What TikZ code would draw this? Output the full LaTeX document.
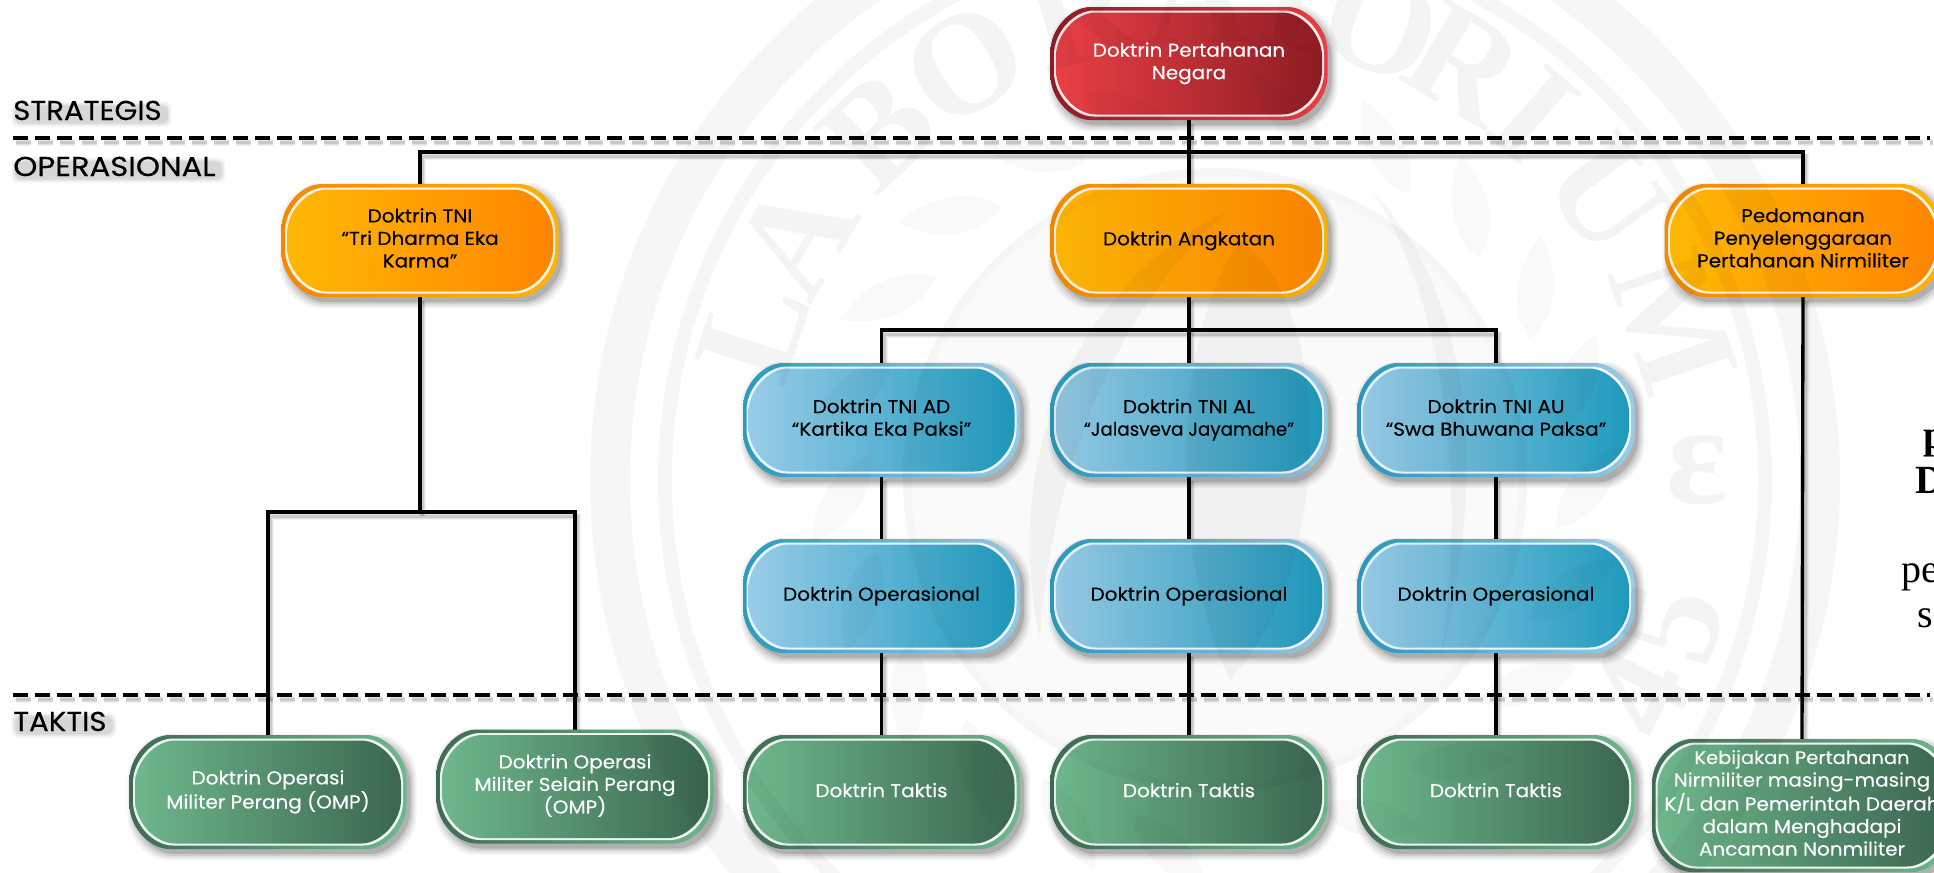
\documentclass[tikz,border=0pt]{standalone}
\usepackage{fontspec}
\setmainfont{Poppins}[FakeStretch=1.07,FakeBold=0.25]
\newfontfamily\wmfont{Liberation Serif}
\usetikzlibrary{calc}
\pgfdeclarelayer{back}
\pgfdeclarelayer{front}
\pgfsetlayers{back,main,front}
\definecolor{rdL}{HTML}{E83F45}\definecolor{rdR}{HTML}{8E1C24}
\definecolor{rdbL}{HTML}{8F1D26}\definecolor{rdbR}{HTML}{E83F45}
\definecolor{orL}{HTML}{FFB805}\definecolor{orR}{HTML}{FF8500}
\definecolor{orbL}{HTML}{F58800}\definecolor{orbR}{HTML}{FFB405}
\definecolor{blL}{HTML}{98CCE8}\definecolor{blR}{HTML}{1F9ABD}
\definecolor{blbL}{HTML}{2A9CBE}\definecolor{blbR}{HTML}{9ACCE8}
\definecolor{grL}{HTML}{6EB78C}\definecolor{grR}{HTML}{3B6650}
\definecolor{grbL}{HTML}{3F6B55}\definecolor{grbR}{HTML}{6EB78C}
\newcommand\pstrut{\rule[-4pt]{0pt}{13pt}}
\newcommand\pillp{(-\A+40,-\B) -- (\A-40,-\B) .. controls (\A-20,-\B) and (\A,-\B+22) .. (\A,-\B+44) -- (\A,\B-44) .. controls (\A,\B-22) and (\A-20,\B) .. (\A-40,\B) -- (-\A+40,\B) .. controls (-\A+20,\B) and (-\A,\B-22) .. (-\A,\B-44) -- (-\A,-\B+44) .. controls (-\A,-\B+22) and (-\A+20,-\B) .. (-\A+40,-\B) -- cycle}
% name, cx, cy, half width, half height, colour set, text colour, text
\newcommand\pill[8]{%
  \begin{scope}[shift={(#2,#3)}]
    \foreach \k/\o in {6/.05,4/.07,2/.09,0/.14}{
      \pgfmathsetmacro\A{#4+\k}\pgfmathsetmacro\B{#5+\k}
      \fill[black,opacity=\o,shift={(4,5)}] \pillp;
    }
    \pgfmathsetmacro\A{#4}\pgfmathsetmacro\B{#5}
    \path[left color=#6bL,right color=#6bR] \pillp;
    \pgfmathsetmacro\A{#4-3.5}\pgfmathsetmacro\B{#5-3.5}
    \path[fill=white,fill opacity=.9] \pillp;
    \pgfmathsetmacro\A{#4-5.5}\pgfmathsetmacro\B{#5-5.5}
    \path[left color=#6L,right color=#6R] \pillp;
  \end{scope}
  \node[pillnode,text=#7,minimum width=#4*1.5pt,minimum height=#5*1.5pt] (#1) at (#2,#3) {\pstrut #8\pstrut};
}
\newcommand\oneline[1]{\raisebox{-1.1pt}{#1}}
% soft shadow + crisp line
\newcommand\conn[1]{%
  \begin{pgfonlayer}{back}
    \foreach \w/\o in {7/.05,5/.07,3/.1}{
      \draw[line width=\w*.75pt,black,opacity=\o,transform canvas={shift={(2.2pt,-3pt)}}] #1;
    }
    \draw[wire] #1;
  \end{pgfonlayer}
}
\newcommand\dashln[1]{%
  \begin{pgfonlayer}{back}
    \foreach \w/\o in {7/.05,5/.07,3/.1}{
      \draw[line width=\w*.75pt,black,opacity=\o,dash pattern=on 11.25pt off 5.25pt,transform canvas={shift={(2.2pt,-3.5pt)}}] #1;
    }
    \draw[dashline] #1;
  \end{pgfonlayer}
}
\newcommand\levlab[4]{%
  \node[levelt] (#1) at (#2,#3) {#4};
  \begin{pgfonlayer}{back}
    \foreach \k/\o in {4/.02,3/.025,2/.03,1/.04,0/.05}{
      \fill[black,opacity=\o,rounded corners=5pt]
        ($(#1.south west)+(2-\k,3+\k)$) rectangle ($(#1.north east)+(6+\k,5-\k)$);
    }
  \end{pgfonlayer}
}
\tikzset{
  pillnode/.style={rectangle,inner sep=0pt,outer sep=0pt,align=center,font=\fontsize{14}{16.9}\selectfont},
  wire/.style={line width=2.5pt,black,line cap=butt,line join=miter},
  dashline/.style={line width=2.6pt,black,dash pattern=on 11.25pt off 5.25pt},
  levelt/.style={anchor=base west,inner sep=0pt,font=\fontsize{20.5}{22}\selectfont},
  wmink/.style={fill=black,fill opacity=.035,draw=none},
  wmletter/.style={inner sep=0pt,text=black,text opacity=.045,font=\wmfont\bfseries\fontsize{108}{108}\selectfont},
  cuttext/.style={anchor=base west,inner sep=0pt,font=\wmfont\fontsize{30}{36}\selectfont}
}
\begin{document}
\begin{tikzpicture}[x=0.75pt,y=-0.75pt]
\useasboundingbox (0,0) rectangle (1934,872);
\clip (0,0) rectangle (1934,872);

% cut-off text at the right edge
\node[cuttext] (cutp) at (1923,448) {\textbf{p}};
\node[cuttext] (cutD) at (1915,493) {\textbf{D}};
\node[cuttext] (cutpe) at (1901,582) {pe};
\node[cuttext] (cuts) at (1917,627) {s};

% nodes
\pill{red}{1189}{63.5}{138.5}{56.5}{rd}{white}{Doktrin Pertahanan\\Negara}
\pill{tni}{420}{240.5}{138.5}{56.5}{or}{black}{Doktrin TNI\\“Tri Dharma Eka\\Karma”}
\pill{ang}{1189}{240.5}{138.5}{56.5}{or}{black}{\raisebox{-2pt}{Doktrin Angkatan}}
\pill{ped}{1803}{240.5}{138.5}{56.5}{or}{black}{Pedomanan\\Penyelenggaraan\\Pertahanan Nirmiliter}
\pill{ad}{881.5}{420}{138.5}{57}{bl}{black}{Doktrin TNI AD\\“Kartika Eka Paksi”}
\pill{al}{1189}{420}{138.5}{57}{bl}{black}{Doktrin TNI AL\\\scalebox{0.915}[1]{“Jalasveva Jayamahe”}}
\pill{au}{1496}{420}{138.5}{57}{bl}{black}{Doktrin TNI AU\\“Swa Bhuwana Paksa”}
\pill{opa}{881.5}{596}{138.5}{57}{bl}{black}{\oneline{Doktrin Operasional}}
\pill{opb}{1189}{596}{138.5}{57}{bl}{black}{\oneline{Doktrin Operasional}}
\pill{opc}{1496}{596}{138.5}{57}{bl}{black}{\oneline{Doktrin Operasional}}
\pill{omp}{268}{792}{138.5}{57}{gr}{white}{Doktrin Operasi\\Militer Perang (OMP)}
\pill{oms}{575}{786.5}{138.5}{57}{gr}{white}{Doktrin Operasi\\Militer Selain Perang\\(OMP)}
\pill{ta}{881.5}{792}{138.5}{57}{gr}{white}{\oneline{Doktrin Taktis}}
\pill{tb}{1189}{792}{138.5}{57}{gr}{white}{\oneline{Doktrin Taktis}}
\pill{tc}{1496}{792}{138.5}{57}{gr}{white}{\oneline{Doktrin Taktis}}
\pill{keb}{1802}{805.5}{150}{66.5}{gr}{white}{\fontsize{13.65}{16.9}\selectfont Kebijakan Pertahanan\\Nirmiliter masing-masing\\K/L dan Pemerintah Daerah\\dalam Menghadapi\\Ancaman Nonmiliter}

% level labels
\levlab{strat}{13}{120}{STRATEGIS}
\levlab{opsl}{13}{176}{\scalebox{1.05}[1]{OPERASIONAL}}
\levlab{tak}{13}{731}{TAKTIS}

% free ends
\coordinate (dl1) at (13,138);
\coordinate (dr1) at (1930,138);
\coordinate (dl2) at (13,695);
\coordinate (dr2) at (1930,695);
\coordinate (bus1) at (1189,152);
\coordinate (bus2) at (1189,330);
\coordinate (bus3) at (420,512);

\dashln{(dl1) -- (dr1)}
\dashln{(dl2) -- (dr2)}
\conn{(red.south) -- (ang.north)}
\conn{(tni.north) |- (bus1) -| (ped.north)}
\conn{(tni.south) -- (bus3)}
\conn{(omp.north) |- (bus3) -| (oms.north)}
\conn{(ang.south) -- (al.north)}
\conn{(ad.north) |- (bus2) -| (au.north)}
\conn{(ad.south) -- (opa.north)}
\conn{(al.south) -- (opb.north)}
\conn{(au.south) -- (opc.north)}
\conn{(opa.south) -- (ta.north)}
\conn{(opb.south) -- (tb.north)}
\conn{(opc.south) -- (tc.north)}
\conn{(ped.south) -- (keb.north)}

% watermark seal, over everything
\begin{pgfonlayer}{front}
  \coordinate (sc) at (1215,480);
  \fill[wmink,even odd rule] (sc) circle[radius=625] (sc) circle[radius=585];
  \fill[wmink,even odd rule] (sc) circle[radius=557] (sc) circle[radius=543];
  \fill[wmink,even odd rule] (sc) circle[radius=312] (sc) circle[radius=304];
  \fill[black,fill opacity=.018] (sc) circle[radius=304];
  \foreach \ch/\ang in {L/162,A/150,B/134,O/121,R/106,A/92,T/81,O/70,R/59,I/49,U/36,M/19}{
    \pgfmathsetmacro\wx{1215+485*cos(\ang)}
    \pgfmathsetmacro\wy{480-485*sin(\ang)}
    \pgfmathsetmacro\wr{\ang-90}
    \node[wmletter,rotate=\wr] (wm\ang) at (\wx,\wy) {\ch};
  }
  \node[wmletter] (wmthree) at (1697,470) {ε};
  \node[wmletter,rotate=73] (wmfive) at (1673,623) {5};
  \node[wmletter,rotate=63] (wmfour) at (1640,693) {4};
  % wreath leaves
  \foreach \ang in {96,112,...,256,-72,-56,...,84}{
    \pgfmathsetmacro\wx{1215+345*cos(\ang)}
    \pgfmathsetmacro\wy{480-345*sin(\ang)}
    \pgfmathsetmacro\wr{\ang+60}
    \begin{scope}[shift={(\wx,\wy)},rotate=\wr]
      \fill[black,fill opacity=.025] (0,0) .. controls (25,-24) and (70,-24) .. (105,0) .. controls (70,24) and (25,24) .. (0,0) -- cycle;
    \end{scope}
  }
  % inner flame forms
  \fill[wmink] (1371,190) .. controls (1470,290) and (1490,470) .. (1440,660) .. controls (1470,480) and (1440,290) .. (1371,190) -- cycle;
  \fill[wmink] (1040,640) .. controls (1000,450) and (1080,280) .. (1230,210) .. controls (1120,300) and (1050,470) .. (1040,640) -- cycle;
  \fill[wmink] (1240,240) .. controls (1330,300) and (1340,560) .. (1230,680) .. controls (1170,560) and (1170,340) .. (1240,240) -- cycle;
\end{pgfonlayer}
\end{tikzpicture}
\end{document}
